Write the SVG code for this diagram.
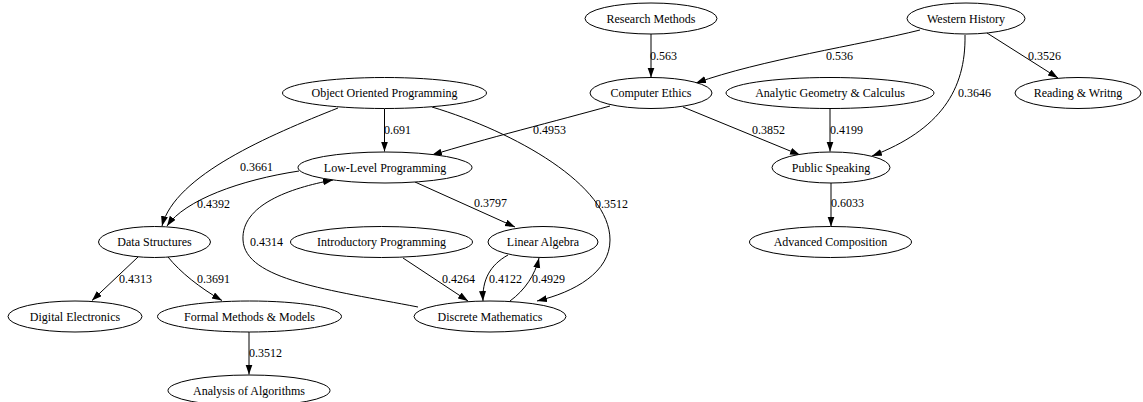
<svg xmlns="http://www.w3.org/2000/svg" width="1143" height="402" viewBox="0 0 1143 402">
<style>
.n ellipse{fill:#fff;stroke:#000;stroke-width:1}
text{font-family:"Liberation Serif","Times New Roman",serif;font-size:12px;fill:#000}
.n text{text-anchor:middle}
.e path{fill:none;stroke:#000;stroke-width:1;marker-end:url(#ah)}
</style>
<defs>
<marker id="ah" markerUnits="userSpaceOnUse" markerWidth="10" markerHeight="8" refX="10" refY="3.5" orient="auto">
<path d="M0,0 L10,3.5 L0,7 z" fill="#000"/>
</marker>
</defs>
<rect width="1143" height="402" fill="#fff"/>
<g id="connectors" class="e">
<path d="M651,34 L651,77.5"/>
<text x="650" y="60">0.563</text>
<path d="M920,30 C860,45 760,60 696,83"/>
<text x="826" y="60">0.536</text>
<path d="M987,33 L1058,78"/>
<text x="1028" y="60">0.3526</text>
<path d="M965,35 C966,90 940,130 872,156"/>
<text x="958" y="97">0.3646</text>
<path d="M610,106 C560,120 480,140 432,155"/>
<text x="533" y="134">0.4953</text>
<path d="M683,107 L800,155"/>
<text x="752" y="134">0.3852</text>
<path d="M830,109 L830,151.5"/>
<text x="830" y="134">0.4199</text>
<path d="M831,183 L831,226.5"/>
<text x="831" y="207">0.6033</text>
<path d="M384.5,109 L384.5,151.5"/>
<text x="384" y="134">0.691</text>
<path d="M338,108 C270,135 175,175 162,226"/>
<text x="240" y="171">0.3661</text>
<path d="M432,107 C515,132 610,185 610,240 C610,272 575,292 537,301"/>
<text x="595" y="208">0.3512</text>
<path d="M299,171 C240,180 185,200 167,226"/>
<text x="197" y="208">0.4392</text>
<path d="M415,182 L515,227"/>
<text x="474" y="207">0.3797</text>
<path d="M418,307 C330,290 245,280 243,240 C241,205 290,188 333,180"/>
<text x="250" y="246">0.4314</text>
<path d="M403,258 L468,301"/>
<text x="442" y="283">0.4264</text>
<path d="M508,255 C490,265 482,280 483,301"/>
<text x="489" y="283">0.4122</text>
<path d="M510,301 C525,290 535,275 539,258"/>
<text x="532" y="283">0.4929</text>
<path d="M138,257 L92,300.5"/>
<text x="119" y="283">0.4313</text>
<path d="M168,257 C180,272 200,288 222,300.5"/>
<text x="197" y="283">0.3691</text>
<path d="M249,332 L249,374.5"/>
<text x="249" y="357">0.3512</text>
</g>
<g id="research" class="n"><ellipse cx="651" cy="18.5" rx="66" ry="15.5"/><text x="651" y="22.5">Research Methods</text></g>
<g id="western" class="n"><ellipse cx="966" cy="18.5" rx="59" ry="15.5"/><text x="966" y="22.5">Western History</text></g>
<g id="ethics" class="n"><ellipse cx="651" cy="93" rx="61" ry="15.5"/><text x="651" y="97">Computer Ethics</text></g>
<g id="analytic" class="n"><ellipse cx="830" cy="93" rx="104" ry="15.5"/><text x="830" y="97">Analytic Geometry &amp; Calculus</text></g>
<g id="reading" class="n"><ellipse cx="1078" cy="93" rx="63" ry="15.5"/><text x="1078" y="97">Reading &amp; Writng</text></g>
<g id="oop" class="n"><ellipse cx="384.5" cy="93" rx="102" ry="15.5"/><text x="384.5" y="97">Object Oriented Programming</text></g>
<g id="llp" class="n"><ellipse cx="385" cy="167.5" rx="87" ry="15.5"/><text x="385" y="171.5">Low-Level Programming</text></g>
<g id="speaking" class="n"><ellipse cx="831" cy="167.5" rx="59" ry="15.5"/><text x="831" y="171.5">Public Speaking</text></g>
<g id="ds" class="n"><ellipse cx="154.5" cy="242" rx="56" ry="15.5"/><text x="154.5" y="246">Data Structures</text></g>
<g id="intro" class="n"><ellipse cx="381.5" cy="242" rx="91" ry="15.5"/><text x="381.5" y="246">Introductory Programming</text></g>
<g id="linalg" class="n"><ellipse cx="543" cy="242" rx="55" ry="15.5"/><text x="543" y="246">Linear Algebra</text></g>
<g id="advcomp" class="n"><ellipse cx="830.5" cy="242" rx="81" ry="15.5"/><text x="830.5" y="246">Advanced Composition</text></g>
<g id="digital" class="n"><ellipse cx="75" cy="316.5" rx="67" ry="15.5"/><text x="75" y="320.5">Digital Electronics</text></g>
<g id="formal" class="n"><ellipse cx="249.5" cy="316.5" rx="92" ry="15.5"/><text x="249.5" y="320.5">Formal Methods &amp; Models</text></g>
<g id="dm" class="n"><ellipse cx="490" cy="316.5" rx="76" ry="15.5"/><text x="490" y="320.5">Discrete Mathematics</text></g>
<g id="aoa" class="n"><ellipse cx="249" cy="390.5" rx="81" ry="15.5"/><text x="249" y="394.5">Analysis of Algorithms</text></g>
</svg>
